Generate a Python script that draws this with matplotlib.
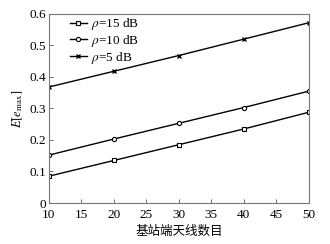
import matplotlib.pyplot as plt

antennas = [10, 20, 30, 40, 50]
rho15 = [0.085, 0.135, 0.185, 0.235, 0.288]
rho10 = [0.152, 0.203, 0.253, 0.303, 0.355]
rho5 = [0.368, 0.418, 0.468, 0.520, 0.572]
labels = [r'$\rho$=15 dB', r'$\rho$=10 dB', r'$\rho$=5 dB']

plt.rcParams['font.family'] = ['Liberation Serif', 'Noto Sans CJK SC']
plt.rcParams['mathtext.fontset'] = 'stix'

fig = plt.figure(figsize=(3.3, 2.44), dpi=100)
ax = fig.add_axes([0.148, 0.168, 0.788, 0.775])

ax.plot(antennas, rho15, 'k-', marker='s', ms=3, mfc='white', mew=0.8, lw=1, label=labels[0])
ax.plot(antennas, rho10, 'k-', marker='o', ms=3, mfc='white', mew=0.8, lw=1, label=labels[1])
ax.plot(antennas, rho5, 'k-', marker='x', ms=3, mew=1, lw=1, label=labels[2])

ax.set_xlim(10, 50)
ax.set_ylim(0, 0.6)
ax.set_xticks([10, 15, 20, 25, 30, 35, 40, 45, 50])
ax.set_yticks([0, 0.1, 0.2, 0.3, 0.4, 0.5, 0.6])
ax.set_yticklabels(['0', '0.1', '0.2', '0.3', '0.4', '0.5', '0.6'])
ax.tick_params(direction='in', labelsize=9.5, length=3, width=0.6, color='#555555')
ax.tick_params(axis='x', pad=4)
ax.tick_params(axis='y', pad=2)
for s in ax.spines.values():
    s.set_color('#777777')
    s.set_linewidth(0.8)

ax.set_xlabel('基站端天线数目', family='Noto Sans CJK SC', fontsize=9, labelpad=3)
ax.set_ylabel(r'$E[e_{\max}]$', fontsize=9, labelpad=3)

ax.legend(loc='upper left', frameon=False, fontsize=9.5, handlelength=1.3,
          handletextpad=0.3, labelspacing=0.05, borderaxespad=0.0,
          bbox_to_anchor=(0.06, 1.015))

fig.savefig('out.png', dpi=100)
